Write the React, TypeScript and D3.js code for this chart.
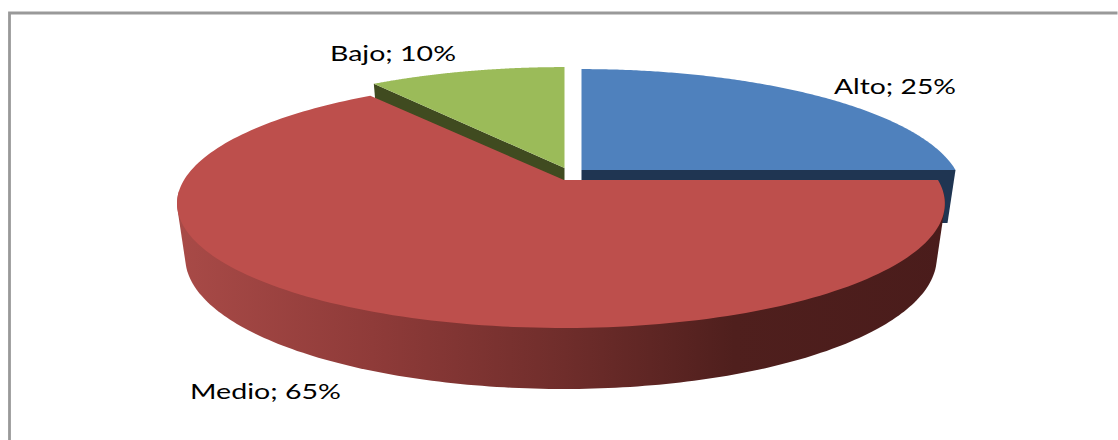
import React from "react";
import * as d3 from "d3";

const categories = ["Alto", "Medio", "Bajo"];
const values = [25, 65, 10];
const topColors = ["#4F81BD", "#BD4F4C", "#9BBB59"];
const wallColors = ["#1F3552", "#7a3230", "#404B20"];
const apexes: [number, number][] = [
  [581.5, 170],
  [564, 180],
  [564.5, 168],
];
const leftStretch = [1, 1.016, 1];
const labelSpecs = [
  { x: 834, y: 94, w: 122 },
  { x: 190, y: 399, w: 151 },
  { x: 330, y: 61, w: 126 },
];

const W = 1118;
const H = 440;
const PERSP = 0.189;
const TOP = { rx: 374, ry: 120, dy: 0 };
const BOTTOM = { rx: 366, ry: 126.5, dy: 53 };

type Plane = typeof TOP;
const project = (apex: [number, number], plane: Plane, angle: number, stretch = 1): [number, number] => {
  const u = Math.sin(angle);
  const s = -Math.cos(angle);
  const k = 1 / (1 - PERSP * s);
  return [apex[0] + plane.rx * u * k * (u < 0 ? stretch : 1), apex[1] + plane.dy + plane.ry * s * k];
};

const arcs = d3.pie<number>().sort(null).startAngle(0).endAngle(2 * Math.PI)(values);
const line = d3.line();
const rim = (apex: [number, number], plane: Plane, a0: number, a1: number, stretch = 1) =>
  d3.range(0, 181).map((i) => project(apex, plane, a0 + ((a1 - a0) * i) / 180, stretch));

export default function App() {
  const slices = arcs.map((a, i) => {
    const apex = apexes[i];
    const top = [
      [apex[0], apex[1]] as [number, number],
      ...rim(apex, TOP, a.startAngle, a.endAngle, leftStretch[i]),
    ];
    return { a, i, apex, top };
  });
  const red = slices[1];
  const redHull = d3.polygonHull([
    ...rim(red.apex, TOP, Math.PI * 0.53, Math.PI * 1.47, leftStretch[1]),
    ...rim(red.apex, BOTTOM, Math.PI * 0.53, Math.PI * 1.47, leftStretch[1]),
  ]) as [number, number][];

  const innerWall = (apex: [number, number], angle: number) => {
    const t0: [number, number] = [apex[0], apex[1]];
    const t1 = project(apex, TOP, angle);
    const b1 = project(apex, BOTTOM, angle);
    const b0: [number, number] = [apex[0], apex[1] + BOTTOM.dy];
    return line([t0, t1, b1, b0]) + "Z";
  };

  return (
    <svg
      width={W}
      height={H}
      viewBox={`0 0 ${W} ${H}`}
      style={{ position: "absolute", left: 0, top: 0, display: "block", background: "#fff" }}
    >
      <defs>
        <linearGradient id="redWall" gradientUnits="userSpaceOnUse" x1={180} x2={950} y1={0} y2={0}>
          <stop offset="0" stopColor="#A84A47" />
          <stop offset="0.25" stopColor="#8F3B39" />
          <stop offset="0.5" stopColor="#6F2D2B" />
          <stop offset="0.72" stopColor="#4F1F1D" />
          <stop offset="1" stopColor="#4A1C1B" />
        </linearGradient>
      </defs>

      <path d={`M1117.5 13H9.5V${H}`} fill="none" stroke="#999" strokeWidth={2.8} />

      <path d={innerWall(slices[0].apex, slices[0].a.endAngle)} fill={wallColors[0]} />
      <path d={innerWall(slices[2].apex, slices[2].a.startAngle)} fill={wallColors[2]} />
      <path d={line(slices[0].top) + "Z"} fill={topColors[0]} />
      <path d={line(slices[2].top) + "Z"} fill={topColors[2]} />

      <path d={line(redHull) + "Z"} fill="url(#redWall)" />
      <path d={line(red.top) + "Z"} fill={topColors[1]} />

      {categories.map((c, i) => (
        <text
          key={c}
          x={labelSpecs[i].x}
          y={labelSpecs[i].y}
          textLength={labelSpecs[i].w}
          lengthAdjust="spacingAndGlyphs"
          fontFamily="Lato, 'Open Sans', sans-serif"
          fontSize={22}
          fill="#000"
        >
          {`${c}; ${values[i]}%`}
        </text>
      ))}
    </svg>
  );
}
